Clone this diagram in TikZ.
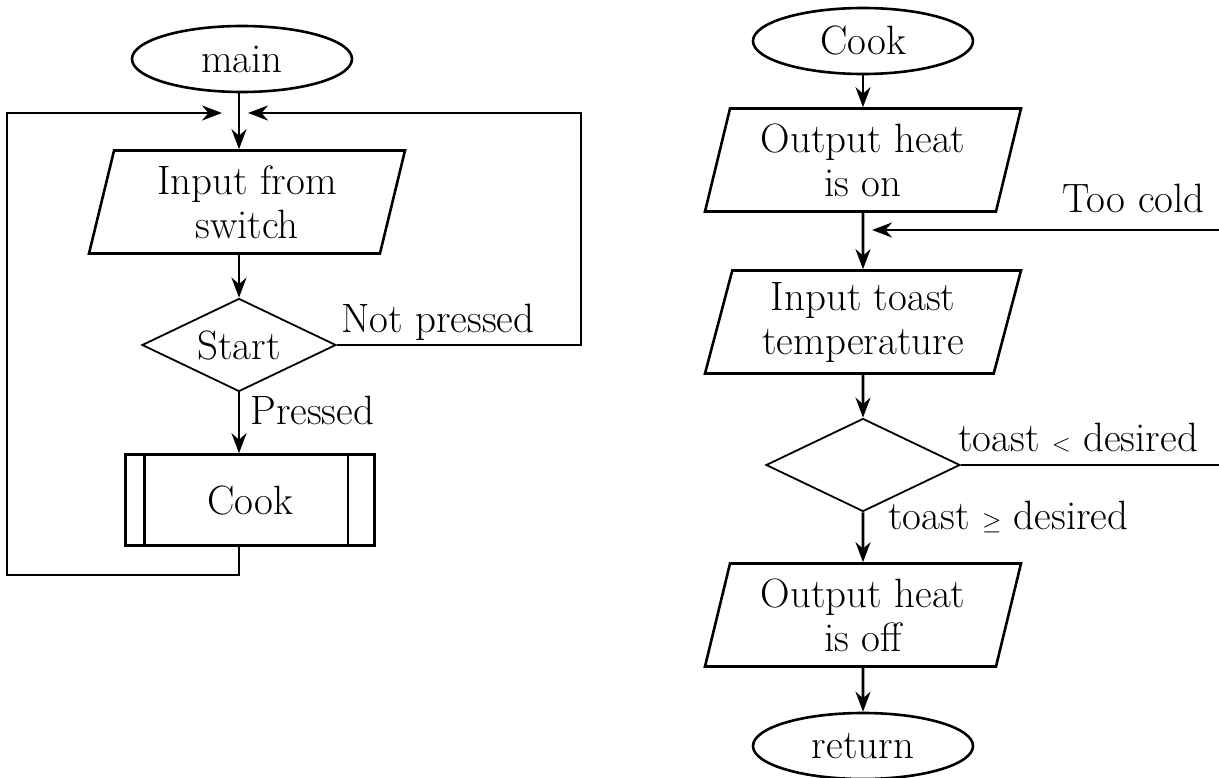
\documentclass[tikz,border=0pt]{standalone}
\usepackage{amsmath}
\usepackage{amssymb}
\usepackage{tikz}
\usetikzlibrary{shapes.geometric,arrows.meta}

\tikzset{
	term/.style={ellipse, draw, line width=2.6pt, minimum width=220pt, minimum height=66pt, inner sep=0pt},
	io/.style={trapezium, trapezium left angle=72, trapezium right angle=108, trapezium stretches body, draw, line width=2.6pt, minimum width=316pt, minimum height=103pt, align=center, inner sep=2pt},
	decision/.style={diamond, aspect=2, draw, line width=1.8pt, minimum width=194pt, minimum height=93pt, inner sep=0pt},
	process/.style={rectangle, draw, line width=2.6pt, minimum width=249pt, minimum height=91pt},
	flow/.style={line width=2.6pt, -{Stealth[length=20pt,width=15pt]}},
	wire/.style={line width=2.6pt},
}

\begin{document}
\begin{tikzpicture}[x=1pt, y=-1pt, font=\fontsize{41}{44}\selectfont]
	\useasboundingbox (0,0) rectangle (1219,778);
	% main loop
	\node (main) at (242, 59) [term] {main};
	\node (switch) at (247, 202) [io] {Input from\\switch};
	\node (start) at (239, 345) [decision] {Start};
	\node (cook) at (250, 500) [process] {Cook};
		\draw[wire] ([xshift=20pt]cook.north west) -- ([xshift=20pt]cook.south west);
		\draw[wire] ([xshift=-28pt]cook.north east) -- ([xshift=-28pt]cook.south east);
	\coordinate (lowleft) at (7, 575);
	\coordinate (upleft) at (7, 113);
	\coordinate (lefttip) at (222, 113);
	\coordinate (lowright) at (581, 345);
	\coordinate (upright) at (581, 113);
	\coordinate (righttip) at (248, 113);
	\draw[flow] (main.south -| start) -- (start |- switch.north);
	\draw[flow] (start |- switch.south) -- (start);
	\draw[flow] (start.south) node [below right, inner sep=2pt, xshift=8pt] {Pressed} -- (start |- cook.north);
	\draw[flow] (start.east) node [above right, inner sep=3pt] {Not pressed} -- (lowright) -- (upright) -- (righttip);
	\draw[flow] (start |- cook.south) |- (lowleft) -- (upleft) -- (lefttip);
	% cook subroutine
	\node (begin) at (863, 41) [term] {Cook};
	\node (heaton) at (863, 160) [io] {Output heat\\is on};
	\node (temp) at (863, 322) [io] {Input toast\\temperature};
	\node (check) at (863, 465) [decision] {};
	\node (heatoff) at (863, 615) [io] {Output heat\\is off};
	\node (return) at (863, 746) [term] {return};
	\coordinate (cold) at (1219, 230);
	\coordinate (coldtip) at (872, 230);
	\coordinate (checkend) at (1219, 465);
	\draw[flow] (begin) -- (heaton);
	\draw[flow] (heaton) -- (temp);
	\draw[flow] (cold) node [above left, inner sep=4pt, xshift=-9pt, yshift=12pt] {Too cold} -- (coldtip);
	\draw[flow] (temp) -- (check);
	\draw[wire] (check.east) node [above right, inner sep=2pt, xshift=-6pt, yshift=10pt] {toast $<$ desired} -- (checkend);
	\draw[flow] (check.south) node [right, inner sep=0pt, xshift=24pt, yshift=-5pt] {toast $\geq$ desired} -- (heatoff);
	\draw[flow] (heatoff) -- (return);
\end{tikzpicture}
\end{document}
